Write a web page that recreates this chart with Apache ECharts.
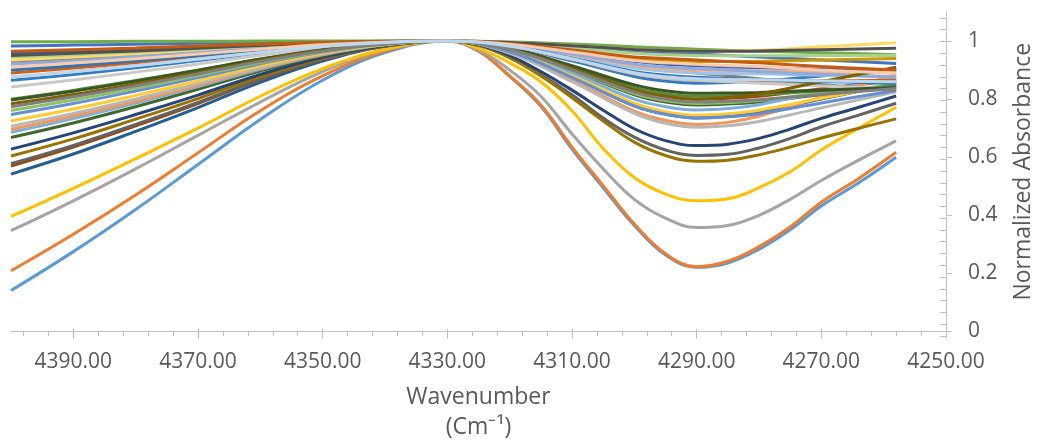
<!DOCTYPE html>
<html>
<head>
<meta charset="utf-8">
<script src="https://cdn.jsdelivr.net/npm/echarts@6/dist/echarts.min.js"></script>
<style>
html,body{margin:0;padding:0;background:#fff;}
#chart{width:1043px;height:444px;}
</style>
</head>
<body>
<div id="chart"></div>
<script>
// Wavenumber sample positions (cm-1)
const wavenumbers = [4400,4390,4380,4370,4360,4350,4340,4330,4320,4310,4300,4295,4290,4285,4280,4270,4258];
// Finer sampling used for the deepest curves
const wavenumbersDeep = [4400,4390,4380,4370,4360,4350,4340,4330,4325,4320,4315,4310,4305,4300,4295,4290,4285,4280,4275,4270,4264,4258];
// Tick labels
const xTickValues = [4250,4270,4290,4310,4330,4350,4370,4390];
const yTickValues = [0,0.2,0.4,0.6,0.8,1];

// Normalized absorbance series
const s01 = [0.141,0.275,0.42,0.575,0.73,0.865,0.96,1,0.965,0.878,0.775,0.628,0.495,0.365,0.263,0.221,0.236,0.283,0.35,0.432,0.512,0.600];
const s02 = [0.209,0.335,0.47,0.615,0.76,0.88,0.965,1,0.966,0.88,0.78,0.635,0.502,0.37,0.268,0.223,0.242,0.292,0.36,0.445,0.527,0.617];
const s03 = [0.347,0.45,0.56,0.675,0.79,0.895,0.97,1,0.97,0.90,0.81,0.68,0.56,0.455,0.39,0.358,0.365,0.40,0.455,0.52,0.59,0.656];
const s04 = [0.396,0.493,0.595,0.70,0.81,0.905,0.972,1,0.975,0.925,0.86,0.76,0.63,0.53,0.473,0.45,0.457,0.495,0.55,0.625,0.70,0.772];
const s05 = [0.983,0.986,0.989,0.992,0.995,0.997,0.999,1,0.994,0.98,0.965,0.96,0.955,0.95,0.945,0.935,0.923];
const s06 = [0.998,0.998,0.999,0.999,1,1,1,1,0.997,0.99,0.98,0.976,0.972,0.968,0.965,0.96,0.953];
const s07 = [0.542,0.611,0.689,0.771,0.858,0.931,0.982,1,0.963,0.875,0.777,0.748,0.735,0.74,0.754,0.80,0.854];
const s08 = [0.57,0.635,0.708,0.785,0.867,0.936,0.983,1,0.972,0.906,0.832,0.81,0.80,0.803,0.81,0.836,0.865];
const s09 = [0.578,0.641,0.713,0.789,0.869,0.937,0.983,1,0.985,0.945,0.885,0.815,0.735,0.669,0.625,0.606,0.61,0.632,0.665,0.705,0.745,0.786];
const s10 = [0.604,0.663,0.731,0.802,0.877,0.941,0.984,1,0.985,0.942,0.88,0.805,0.725,0.652,0.606,0.586,0.59,0.608,0.635,0.666,0.70,0.732];
const s11 = [0.628,0.684,0.747,0.814,0.885,0.944,0.985,1,0.987,0.95,0.895,0.831,0.762,0.698,0.657,0.64,0.645,0.665,0.697,0.734,0.772,0.811];
const s12 = [0.668,0.718,0.774,0.834,0.897,0.95,0.987,1,0.969,0.897,0.815,0.79,0.78,0.783,0.79,0.816,0.845];
const s13 = [0.686,0.733,0.786,0.843,0.903,0.953,0.987,1,0.967,0.889,0.80,0.774,0.763,0.768,0.781,0.825,0.876];
const s14 = [0.696,0.742,0.793,0.848,0.906,0.954,0.988,1,0.96,0.865,0.759,0.727,0.713,0.72,0.741,0.808,0.885];
const s15 = [0.707,0.751,0.801,0.854,0.909,0.956,0.988,1,0.958,0.86,0.751,0.717,0.703,0.708,0.723,0.77,0.825];
const s16 = [0.725,0.766,0.813,0.863,0.915,0.959,0.989,1,0.964,0.88,0.786,0.757,0.745,0.75,0.762,0.803,0.85];
const s17 = [0.747,0.785,0.828,0.874,0.922,0.962,0.99,1,0.963,0.875,0.777,0.748,0.735,0.739,0.75,0.787,0.83];
const s18 = [0.761,0.797,0.837,0.881,0.926,0.964,0.99,1,0.97,0.899,0.819,0.795,0.785,0.788,0.795,0.821,0.85];
const s19 = [0.865,0.885,0.908,0.933,0.958,0.98,0.995,1,0.98,0.932,0.878,0.862,0.855,0.857,0.862,0.88,0.90];
const s20 = [0.89,0.907,0.925,0.945,0.966,0.984,0.996,1,0.981,0.937,0.887,0.872,0.865,0.863,0.862,0.863,0.865];
const s21 = [0.93,0.94,0.952,0.965,0.978,0.99,0.997,1,0.99,0.955,0.915,0.902,0.89,0.88,0.87,0.85,0.83];
const s22 = [0.955,0.962,0.969,0.977,0.986,0.993,0.998,1,0.99,0.967,0.941,0.934,0.93,0.93,0.93,0.935,0.94];
const s23 = [0.96,0.966,0.973,0.98,0.988,0.994,0.998,1,0.988,0.96,0.93,0.92,0.915,0.911,0.908,0.903,0.90];
const s24 = [0.80,0.83,0.864,0.90,0.938,0.97,0.992,1,0.973,0.911,0.84,0.819,0.81,0.812,0.816,0.829,0.845];
const s25 = [0.876,0.895,0.916,0.938,0.962,0.981,0.995,1,0.985,0.948,0.908,0.896,0.89,0.888,0.887,0.882,0.876];
const s26 = [0.905,0.919,0.935,0.953,0.971,0.986,0.996,1,0.986,0.953,0.916,0.905,0.90,0.898,0.897,0.893,0.89];
const s27 = [0.842,0.866,0.893,0.921,0.951,0.976,0.994,1,0.981,0.937,0.887,0.872,0.865,0.86,0.855,0.845,0.837];
const s28 = [0.935,0.945,0.956,0.968,0.98,0.99,0.997,1,0.995,0.984,0.971,0.967,0.965,0.966,0.968,0.98,0.994];
const s29 = [0.92,0.932,0.946,0.96,0.975,0.988,0.997,1,0.987,0.955,0.92,0.91,0.905,0.90,0.895,0.886,0.876];
const s30 = [0.945,0.953,0.963,0.973,0.983,0.992,0.998,1,0.993,0.977,0.958,0.953,0.95,0.949,0.949,0.95,0.95];
const s31 = [0.797,0.827,0.862,0.899,0.937,0.97,0.992,1,0.975,0.915,0.849,0.829,0.82,0.821,0.823,0.831,0.84];
const s32 = [0.784,0.816,0.853,0.892,0.933,0.968,0.991,1,0.972,0.906,0.832,0.81,0.80,0.806,0.818,0.86,0.91];
const s33 = [0.95,0.958,0.966,0.975,0.985,0.993,0.998,1,0.995,0.984,0.971,0.967,0.965,0.965,0.966,0.97,0.975];
const s34 = [0.774,0.808,0.846,0.887,0.93,0.966,0.991,1,0.971,0.901,0.824,0.80,0.79,0.793,0.798,0.816,0.837];
const s35 = [0.965,0.97,0.976,0.983,0.989,0.995,0.999,1,0.991,0.969,0.945,0.94,0.935,0.93,0.925,0.912,0.90];
const s36 = [0.90,0.915,0.932,0.95,0.969,0.985,0.996,1,0.983,0.941,0.895,0.882,0.875,0.871,0.868,0.861,0.854];
const s37 = [0.91,0.924,0.939,0.955,0.972,0.987,0.996,1,0.989,0.962,0.933,0.925,0.92,0.916,0.912,0.90,0.89];
const s38 = [0.875,0.894,0.915,0.938,0.961,0.981,0.995,1,0.982,0.939,0.891,0.877,0.87,0.868,0.867,0.863,0.86];

const allSeries = [s01,s02,s03,s04,s05,s06,s07,s08,s09,s10,s11,s12,s13,s14,s15,s16,s17,s18,s19,s20,
  s21,s22,s23,s24,s25,s26,s27,s28,s29,s30,s31,s32,s33,s34,s35,s36,s37,s38];

const palette = ['#5B9BD5','#ED7D31','#A5A5A5','#FFC000','#4472C4','#70AD47',
  '#255E91','#9E480E','#636363','#997300','#264478','#43682B',
  '#7CAFDD','#F1975A','#B7B7B7','#FFCD33','#698ED0','#8CC168',
  '#327DC2','#D26012','#848484','#CC9A00','#3A5DAE','#5A8A39',
  '#9DC3E6','#F4B183','#C9C9C9','#FFD966','#8FAADC','#A9D18E',
  '#385723','#7F6000','#525252','#7F7F7F','#C55A11','#2E75B6','#F8CBAD','#BDD7EE'];

const xMinor = [];
for (let v = 4254; v < 4400; v += 4) { if ((v - 4250) % 20 !== 0) xMinor.push(v); }
const yMinor = [];
for (let i = 0; i <= 27; i++) { yMinor.push(Math.round(i * 0.04 * 1000) / 1000); }

const FONT = '"Open Sans", sans-serif';
const TXT = '#595959';
const AX = '#bfbfbf';
const gridBox = {left: 11, right: 97, top: 12, bottom: 108};

const chart = echarts.init(document.getElementById('chart'), null, {renderer: 'canvas'});

const series = allSeries.map((vals, i) => {
  const xs = vals.length === wavenumbersDeep.length ? wavenumbersDeep : wavenumbers;
  return {
    type: 'line',
    xAxisIndex: 0, yAxisIndex: 0,
    data: xs.map((w, k) => [w, vals[k]]),
    smooth: 0.4,
    symbol: 'none',
    lineStyle: {width: 3, color: palette[i % palette.length]},
    itemStyle: {color: palette[i % palette.length]},
    z: 2 + i * 0.01
  };
});

const xBase = {type: 'value', min: 4250, max: 4400, inverse: true, splitLine: {show: false}};
const yBase = {type: 'value', min: 0, max: 1.1, position: 'right', splitLine: {show: false}};

chart.setOption({
  animation: false,
  backgroundColor: '#fff',
  grid: [
    Object.assign({}, gridBox),
    Object.assign({}, gridBox),
    Object.assign({}, gridBox)
  ],
  xAxis: [
    Object.assign({}, xBase, {
      gridIndex: 0, position: 'bottom',
      axisLine: {show: true, onZero: false, lineStyle: {color: AX, width: 1}},
      axisTick: {show: true, inside: false, length: 7, customValues: xTickValues, lineStyle: {color: AX}},
      axisLabel: {show: true, customValues: xTickValues, formatter: v => Number(v).toFixed(2),
        fontFamily: FONT, fontSize: 21, color: TXT, margin: 20},
      name: '{a|Wavenumber}\n{a|(Cm⁻¹)}',
      nameLocation: 'middle', nameGap: 51,
      nameTextStyle: {rich: {a: {fontFamily: FONT, fontSize: 23, color: TXT, lineHeight: 30, align: 'center'}}}
    }),
    Object.assign({}, xBase, {
      gridIndex: 1, position: 'bottom',
      axisLine: {show: false, onZero: false},
      axisTick: {show: true, inside: true, length: 7, customValues: xTickValues, lineStyle: {color: AX}},
      axisLabel: {show: false}
    }),
    Object.assign({}, xBase, {
      gridIndex: 2, position: 'bottom',
      axisLine: {show: false, onZero: false},
      axisTick: {show: true, inside: true, length: 4, customValues: xMinor, lineStyle: {color: AX}},
      axisLabel: {show: false}
    })
  ],
  yAxis: [
    Object.assign({}, yBase, {
      gridIndex: 0,
      axisLine: {show: true, onZero: false, lineStyle: {color: AX, width: 1}},
      axisTick: {show: true, inside: false, length: 6, customValues: yTickValues, lineStyle: {color: AX}},
      axisLabel: {show: true, customValues: yTickValues, formatter: v => String(Math.round(v * 10) / 10),
        fontFamily: FONT, fontSize: 21, color: TXT, margin: 22},
      name: 'Normalized Absorbance', nameLocation: 'middle', nameRotate: 90, nameGap: 66,
      nameTextStyle: {fontFamily: FONT, fontSize: 23, color: TXT}
    }),
    Object.assign({}, yBase, {
      gridIndex: 1,
      axisLine: {show: false, onZero: false},
      axisTick: {show: true, inside: true, length: 6, customValues: yMinor, lineStyle: {color: AX}},
      axisLabel: {show: false}
    }),
    Object.assign({}, yBase, {
      gridIndex: 2, show: false
    })
  ],
  series: series
});
</script>
</body>
</html>
